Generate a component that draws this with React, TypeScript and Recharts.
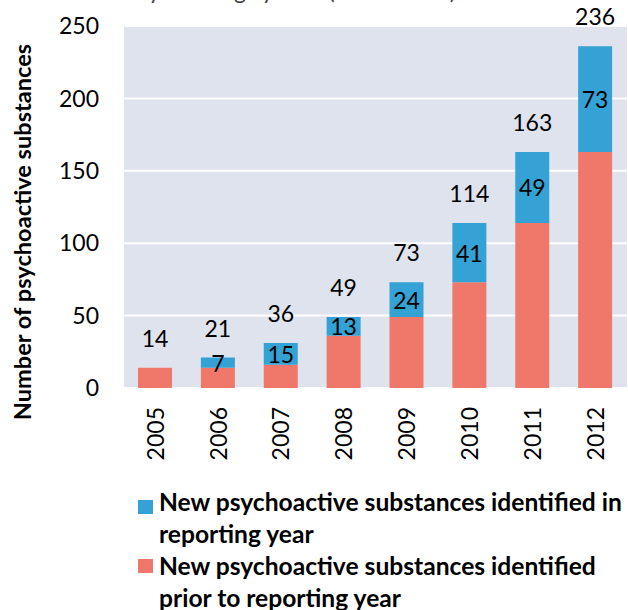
import { BarChart, Bar, XAxis, YAxis, CartesianGrid, LabelList } from 'recharts';

const years = ['2005', '2006', '2007', '2008', '2009', '2010', '2011', '2012'];
// bar segments as drawn in the picture
const priorCounts = [14, 14, 16, 36, 49, 73, 114, 163];
const newCounts = [0, 7, 15, 13, 24, 41, 49, 73];
// totals printed above the bars
const totalLabels = [14, 21, 36, 49, 73, 114, 163, 236];
const yTicks = [0, 50, 100, 150, 200, 250];

const legendItems = [
  { color: '#34a2d4', lines: ['New psychoactive substances identified in', 'reporting year'] },
  { color: '#f0786b', lines: ['New psychoactive substances identified', 'prior to reporting year'] },
];

const data = years.map((year, i) => ({
  year,
  prior: priorCounts[i],
  fresh: newCounts[i],
  total: totalLabels[i],
}));

const FONT = 'Lato, "Open Sans", sans-serif';
const NUM_SIZE = 23;

const YearTick = ({ x, y, payload }: any) => (
  <text
    x={x}
    y={y}
    transform={`rotate(-90 ${x} ${y})`}
    textAnchor="end"
    dy="0.36em"
    fontFamily={FONT}
    fontSize={NUM_SIZE}
    fill="#000"
  >
    {payload.value}
  </text>
);

// drawn on the lower segment so that years with no new substances still get a total
const TotalLabel = ({ x, y, width, height, index }: any) => {
  const row = data[index];
  const pxPerUnit = row.prior ? height / row.prior : 0;
  const top = y - row.fresh * pxPerUnit;
  return (
    <text
      x={x + width / 2}
      y={top - 30}
      textAnchor="middle"
      dominantBaseline="central"
      fontFamily={FONT}
      fontSize={NUM_SIZE}
      fill="#000"
    >
      {row.total}
    </text>
  );
};

const InnerLabel = ({ x, y, width, height, value }: any) => {
  if (!value) return null;
  return (
    <text
      x={x + width / 2}
      y={y + height / 2}
      textAnchor="middle"
      dominantBaseline="central"
      fontFamily={FONT}
      fontSize={NUM_SIZE}
      fill="#000"
    >
      {value}
    </text>
  );
};

export default function App() {
  return (
    <div style={{ position: 'absolute', left: 0, top: 0, width: 628, height: 610, overflow: 'hidden', background: '#fff' }}>
      <BarChart width={628} height={610} data={data} margin={{ top: 26, right: 1, bottom: 0, left: 0 }}>
        <CartesianGrid vertical={false} fill="#dfe3ee" stroke="#ffffff" strokeWidth={2} />
        <XAxis
          dataKey="year"
          axisLine={false}
          tickLine={false}
          tickSize={0}
          tickMargin={19}
          height={222}
          interval={0}
          tick={<YearTick />}
        />
        <YAxis
          domain={[0, 250]}
          ticks={yTicks}
          axisLine={false}
          tickLine={false}
          tickSize={0}
          tickMargin={25}
          width={124}
          tick={{ fontFamily: FONT, fontSize: NUM_SIZE, fill: '#000' }}
        />
        <Bar dataKey="prior" stackId="a" fill="#f0786b" barSize={34} isAnimationActive={false}>
          <LabelList dataKey="total" content={<TotalLabel />} />
        </Bar>
        <Bar dataKey="fresh" stackId="a" fill="#34a2d4" barSize={34} isAnimationActive={false}>
          <LabelList dataKey="fresh" content={<InnerLabel />} />
        </Bar>
      </BarChart>
      <svg width={628} height={610} style={{ position: 'absolute', left: 0, top: 0, pointerEvents: 'none' }}>
        <text x={456} y={-1} textAnchor="end" fontFamily={FONT} fontSize={23} fill="#404040">
          Early warning system (2005-2012)
        </text>
        <text
          transform="translate(22 232) rotate(-90)"
          textAnchor="middle"
          dominantBaseline="central"
          fontFamily={FONT}
          fontWeight="bold"
          fontSize={23.6}
          fill="#000"
        >
          Number of psychoactive substances
        </text>
        {legendItems.map((item, i) => (
          <g key={i}>
            <rect x={138} y={500 + i * 59} width={15} height={14} fill={item.color} />
            {item.lines.map((line, j) => (
              <text
                key={j}
                x={159}
                y={511 + i * 64 + j * 32}
                fontFamily={FONT}
                fontWeight="bold"
                fontSize={24.6}
                fill="#000"
              >
                {line}
              </text>
            ))}
          </g>
        ))}
      </svg>
    </div>
  );
}
